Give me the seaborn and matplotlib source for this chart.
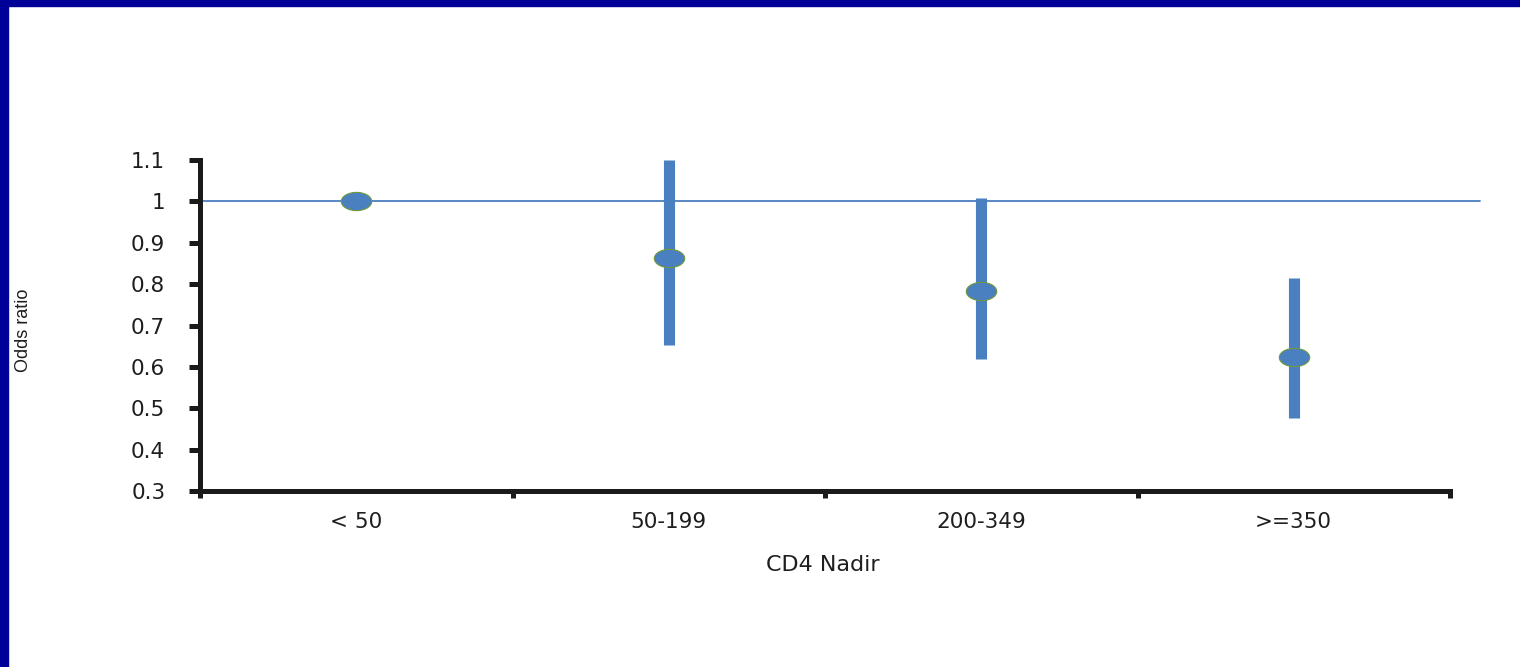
import numpy as np
import pandas as pd
import matplotlib
matplotlib.use("Agg")
import matplotlib.pyplot as plt
import seaborn as sns
from matplotlib.path import Path
from matplotlib.patches import Rectangle

# dados
categorias = ["< 50", "50-199", "200-349", ">=350"]
odds = [1.0, 0.863, 0.783, 0.623]
ic_inf = [1.0, 0.653, 0.62, 0.476]
ic_sup = [1.0, 1.1, 1.008, 0.816]
yticks = [0.3, 0.4, 0.5, 0.6, 0.7, 0.8, 0.9, 1.0, 1.1]
ytick_labels = ["0.3", "0.4", "0.5", "0.6", "0.7", "0.8", "0.9", "1", "1.1"]

df = pd.DataFrame({"cd4": categorias, "odds": odds, "low": ic_inf, "high": ic_sup})
df["pos"] = range(len(df))

sns.set_style("white")
plt.rcParams["font.family"] = ["DejaVu Sans"]

azul = "#4a7fc0"
texto = "#1e1e1e"
fig = plt.figure(figsize=(15.2, 6.67), dpi=100)

# moldura azul (so esquerda e topo)
fig.patches.append(Rectangle((0, 0), 8 / 1520, 1, transform=fig.transFigure, color="#000099", zorder=0))
fig.patches.append(Rectangle((0, 1 - 6 / 667), 1, 6 / 667, transform=fig.transFigure, color="#000099", zorder=0))

ax = fig.add_axes([200 / 1520, 1 - 491 / 667, 1250 / 1520, 331 / 667])

# linha de referencia em 1
ax.axhline(1.0, xmin=0, xmax=1.024, color=azul, lw=1.3, clip_on=False, zorder=1)

# intervalos de confianca
ax.vlines(df["pos"], df["low"], df["high"], color=azul, lw=8, zorder=2)

# marcador eliptico
circ = Path.unit_circle()
elipse = Path(circ.vertices * np.array([1.0, 0.6]), circ.codes)
sns.scatterplot(data=df, x="pos", y="odds", marker=elipse, s=480, color=azul,
                edgecolor="#6f9a3c", linewidth=0.8, zorder=3, ax=ax, legend=False)

ax.set_xlim(-0.5, 3.5)
ax.set_ylim(0.3, 1.1)
ax.set_xticks([-0.5, 0.5, 1.5, 2.5, 3.5])
ax.set_xticklabels([])
ax.set_xticks(df["pos"], categorias, minor=True)
ax.set_yticks(yticks, ytick_labels)

for s in ["top", "right"]:
    ax.spines[s].set_visible(False)
for s in ["left", "bottom"]:
    ax.spines[s].set_linewidth(3.6)
    ax.spines[s].set_color("#1a1a1a")

ax.tick_params(axis="y", which="major", direction="out", length=8, width=3.6, color="#1a1a1a",
               left=True, pad=17, labelsize=15.5, labelcolor=texto)
ax.tick_params(axis="x", which="major", direction="out", length=5, width=3.6, color="#1a1a1a",
               bottom=True)
ax.tick_params(axis="x", which="minor", length=0, pad=15, labelsize=15.5, labelcolor=texto)

ax.set_xlabel("CD4 Nadir", fontsize=16, color=texto)
ax.xaxis.set_label_coords((823 - 200) / 1250, (491 - 565) / 331)
ax.xaxis.label.set_va("center")
ax.set_ylabel("")
fig.text(24 / 1520, 1 - 330 / 667, "Odds ratio", rotation=90, fontsize=13,
         ha="center", va="center", color=texto, family=["Liberation Sans", "DejaVu Sans"])

fig.savefig("out.png", dpi=100)
